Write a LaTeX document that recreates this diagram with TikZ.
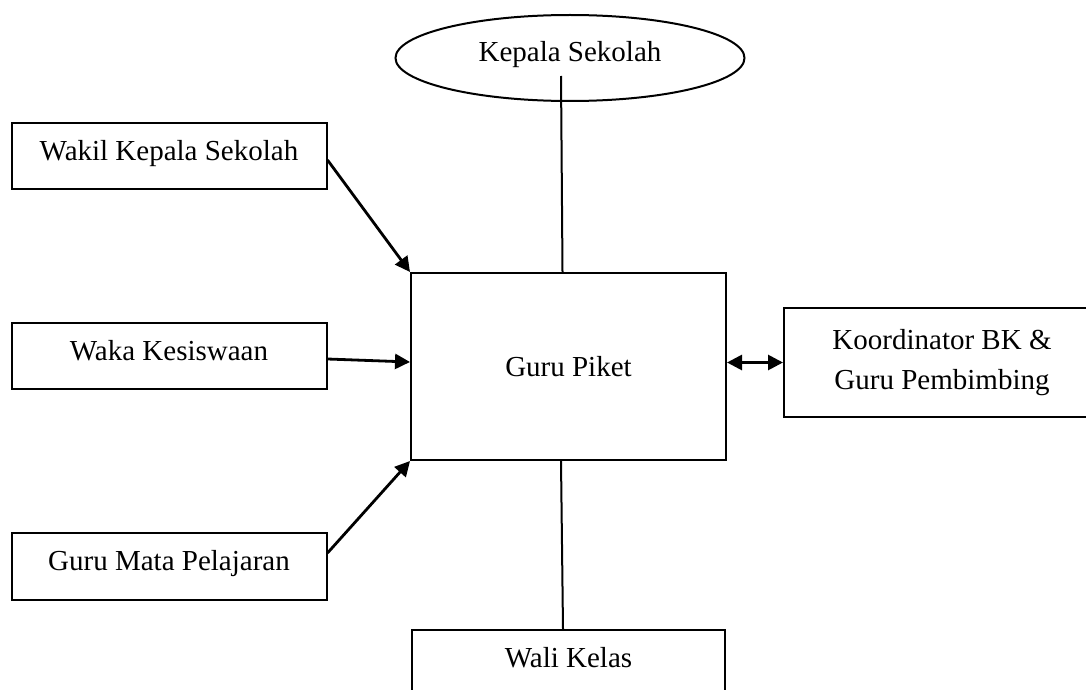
\documentclass[tikz,border=0pt]{standalone}
\usepackage{fontspec}
\setmainfont{Liberation Serif}
\usetikzlibrary{arrows.meta,shapes.geometric,calc}
\begin{document}
\begin{tikzpicture}[x=1pt,y=-1pt,
  box/.style={draw, line width=2pt, rectangle, inner sep=0pt,
    font=\fontsize{29}{40}\selectfont, align=center},
  one/.style={text height=20pt, text depth=12pt},
  oval/.style={draw, line width=2pt, ellipse, inner sep=0pt,
    font=\fontsize{29}{34}\selectfont, text height=20pt, text depth=12pt},
  arr/.style={line width=2.8pt, -{Triangle[length=15pt,width=15pt]}},
  link/.style={line width=2pt},
  dbl/.style={line width=2.8pt, {Triangle[length=15pt,width=15pt]}-{Triangle[length=15pt,width=15pt]}}]
\useasboundingbox[fill=white] (0,0) rectangle (1086,690);

\node[oval, minimum width=349pt, minimum height=86pt] (kepala) at (570,58) {Kepala Sekolah};
\node[box, one, minimum width=315pt, minimum height=66pt] (wakil) at (169,156) {Wakil Kepala Sekolah};
\node[box, one, minimum width=315pt, minimum height=66pt] (waka) at (169,356) {Waka Kesiswaan};
\node[box, one, minimum width=315pt, minimum height=67pt] (guru) at (169,566.5) {Guru Mata Pelajaran};
\node[box, text height=20pt, text depth=1pt, minimum width=315pt, minimum height=187pt] (piket) at (568.5,366.5) {Guru Piket};
\node[box, minimum width=316pt, minimum height=109pt] (koord) at (942,362.5) {Koordinator BK \&\\Guru Pembimbing};
\node[box, one, minimum width=313pt, minimum height=67pt] (wali) at (568.5,663.5) {Wali Kelas};

\coordinate (kt) at (561,76);
\draw[link] (kt) -- ($(piket.north)+(-6,0)$);
\draw[arr] ($(wakil.east)+(0,4)$) -- (piket.north west);
\draw[arr] ($(waka.east)+(0,3)$) -- ($(piket.west)+(0,-4.5)$);
\draw[arr] ($(guru.east)+(0,-13.5)$) -- (piket.south west);
\draw[dbl] (piket.east |- koord.west) -- (koord.west);
\draw[link] ($(piket.south)+(-7.5,0)$) -- ($(wali.north)+(-5.5,0)$);
\end{tikzpicture}
\end{document}
